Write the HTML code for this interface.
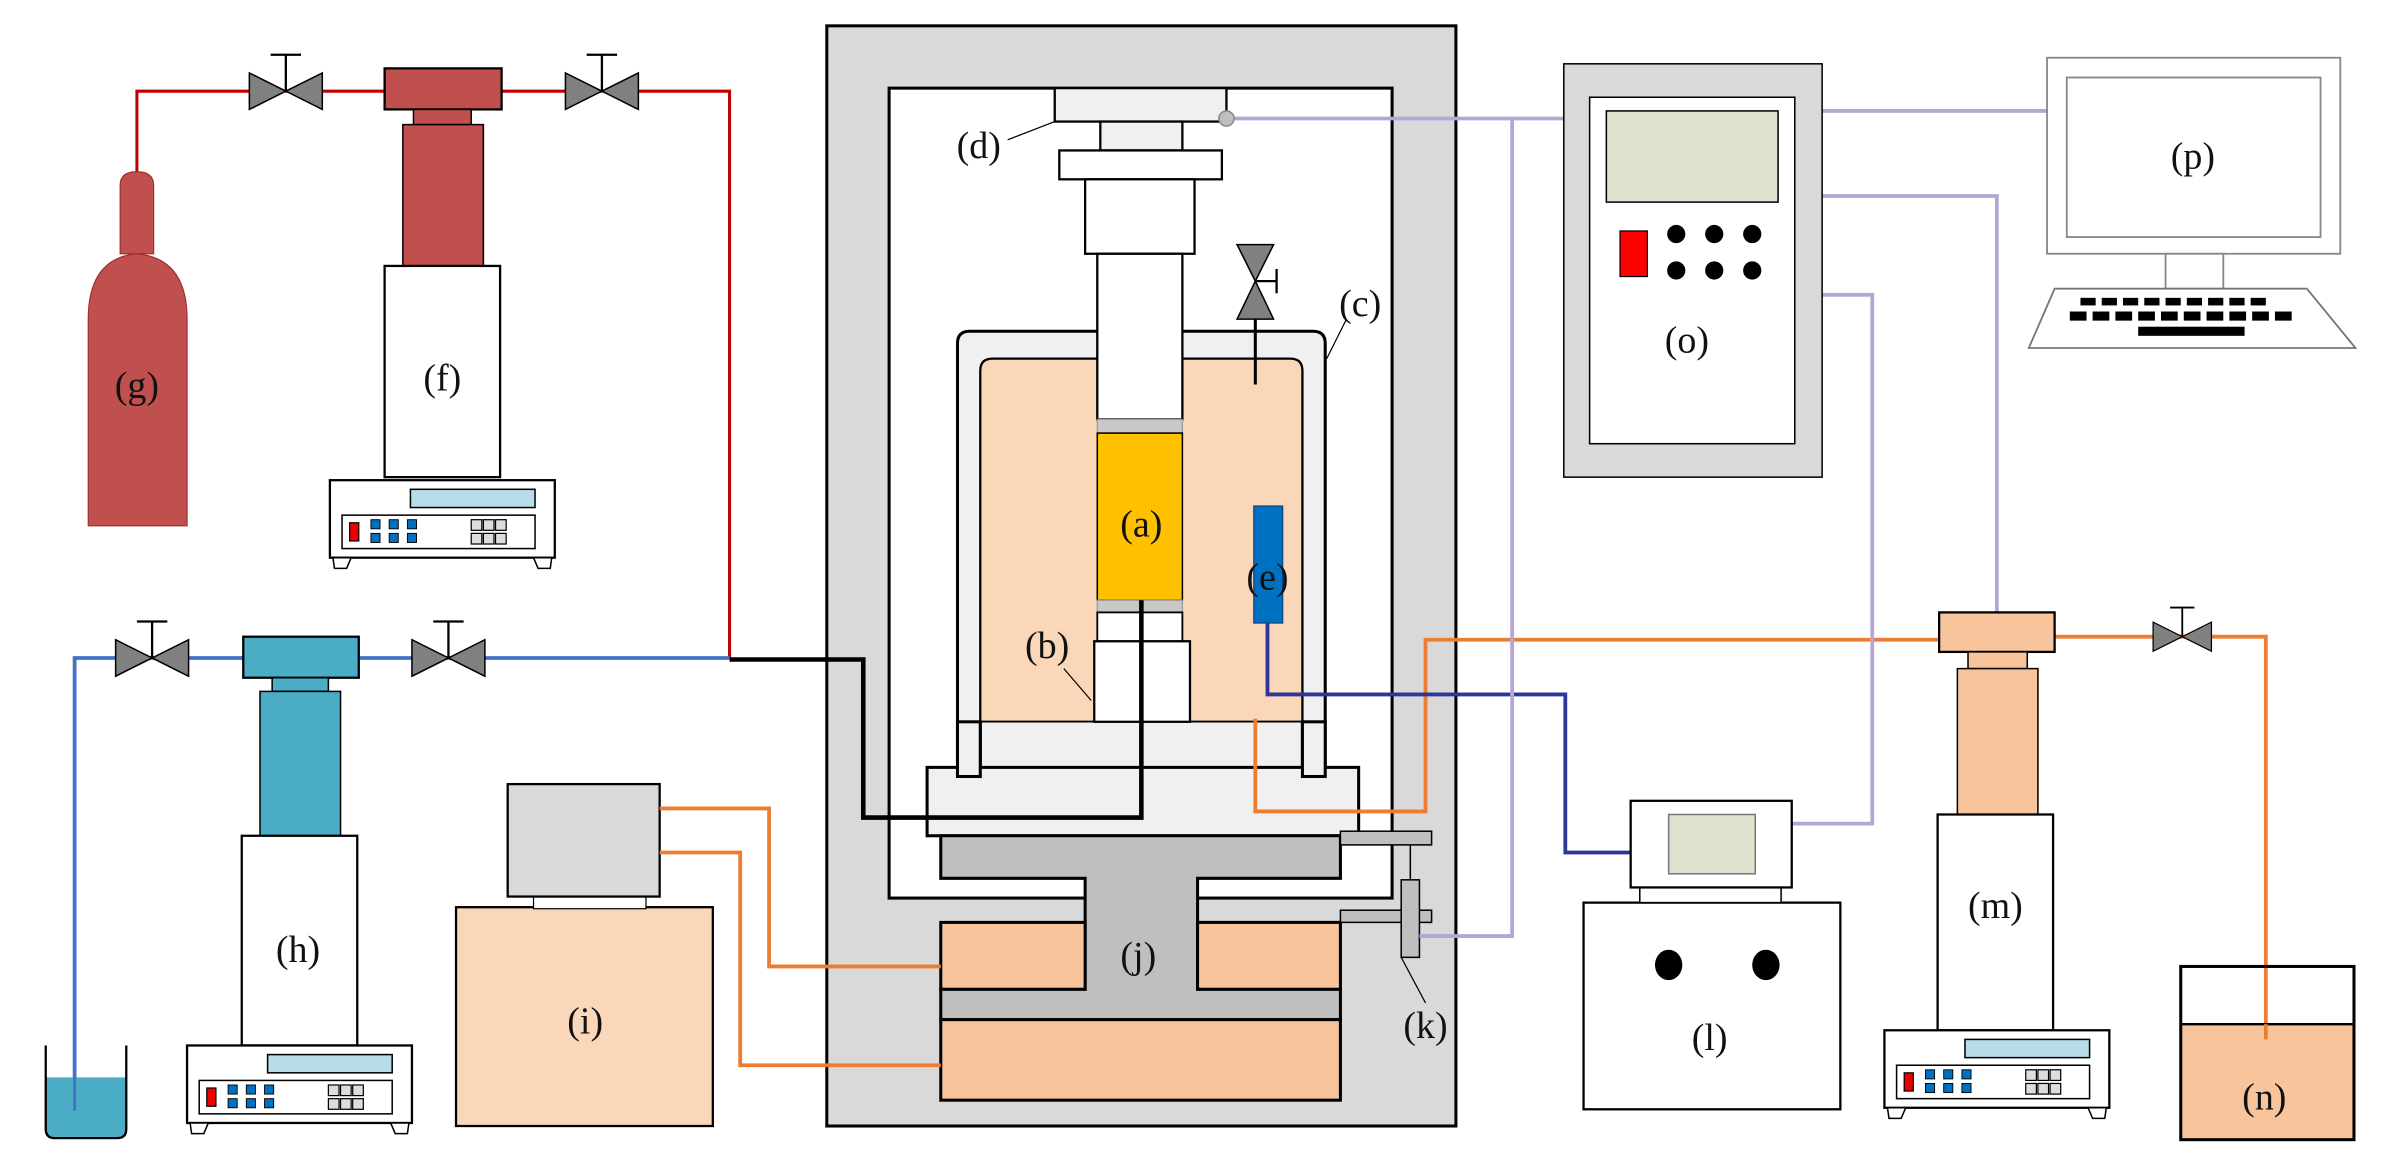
<!DOCTYPE html>
<html><head><meta charset="utf-8"><style>html,body{margin:0;padding:0;background:#fff}svg{display:block}text{font-family:"Liberation Serif",serif;font-size:25px;fill:#111;text-anchor:middle}</style></head><body>
<svg width="2383" height="1164" viewBox="0 0 1568 766" xmlns="http://www.w3.org/2000/svg">
<defs>
<g id="ctrl">
<rect x="0" y="0" width="148" height="51" fill="#fff" stroke="#000" stroke-width="1.5"/>
<rect x="53" y="6" width="82" height="12" fill="#b7dde8" stroke="#000" stroke-width="1"/>
<rect x="8" y="23" width="127" height="22" fill="#fff" stroke="#000" stroke-width="1"/>
<rect x="13" y="28" width="6" height="12" fill="#e00" stroke="#000" stroke-width="0.8"/>
<g fill="#0070c0" stroke="#000" stroke-width="0.6">
<rect x="27" y="26" width="6" height="6"/><rect x="39" y="26" width="6" height="6"/><rect x="51" y="26" width="6" height="6"/>
<rect x="27" y="35" width="6" height="6"/><rect x="39" y="35" width="6" height="6"/><rect x="51" y="35" width="6" height="6"/></g>
<g fill="#ddd" stroke="#000" stroke-width="0.8">
<rect x="93" y="26" width="7" height="7"/><rect x="101" y="26" width="7" height="7"/><rect x="109" y="26" width="7" height="7"/>
<rect x="93" y="35" width="7" height="7"/><rect x="101" y="35" width="7" height="7"/><rect x="109" y="35" width="7" height="7"/></g>
<path d="M2 51 L14 51 L11 58 L3 58 Z M134 51 L146 51 L145 58 L137 58 Z" fill="#fff" stroke="#000" stroke-width="1"/>
</g>
<g id="valve">
<path d="M-24 -12 L-24 12 L0 0 Z M24 -12 L24 12 L0 0 Z" fill="#808080" stroke="#000" stroke-width="1"/>
<path d="M0 0 V-24 M-10 -24 H10" stroke="#000" stroke-width="1.5"/>
</g>
</defs>

<!-- red line -->
<path d="M90 113 V60 H480 V433" fill="none" stroke="#c00000" stroke-width="2"/>
<!-- bottle g -->
<path d="M79 167 V122 Q79 113 90 113 Q101 113 101 122 V167 Z" fill="#c0504d" stroke="#a03030" stroke-width="0.8"/>
<path d="M58 346 V210 Q58 170 90 167 Q123 170 123 210 V346 Z" fill="#c0504d" stroke="#a03030" stroke-width="0.8"/>
<text x="90" y="262">(g)</text>
<!-- pump f -->
<use href="#valve" x="188" y="60"/><use href="#valve" x="396" y="60"/>
<rect x="253" y="45" width="77" height="27" fill="#c0504d" stroke="#000" stroke-width="1.5"/>
<rect x="272" y="72" width="38" height="10" fill="#c0504d" stroke="#000" stroke-width="1"/>
<rect x="265" y="82" width="53" height="93" fill="#c0504d" stroke="#000" stroke-width="1"/>
<rect x="253" y="175" width="76" height="139" fill="#fff" stroke="#000" stroke-width="1.5"/>
<text x="291" y="257">(f)</text>
<use href="#ctrl" x="217" y="316"/>

<!-- blue line -->
<path d="M49 731 V433 H480" fill="none" stroke="#4472c4" stroke-width="2.5"/>
<use href="#valve" x="100" y="433"/><use href="#valve" x="295" y="433"/>
<rect x="160" y="419" width="76" height="27" fill="#4bacc6" stroke="#000" stroke-width="1.5"/>
<rect x="179" y="446" width="37" height="9" fill="#4bacc6" stroke="#000" stroke-width="1"/>
<rect x="171" y="455" width="53" height="95" fill="#4bacc6" stroke="#000" stroke-width="1"/>
<rect x="159" y="550" width="76" height="138" fill="#fff" stroke="#000" stroke-width="1.5"/>
<text x="196" y="633">(h)</text>
<use href="#ctrl" x="123" y="688"/>
<!-- beaker -->
<path d="M30 709 H83 V743 Q83 749 77 749 H36 Q30 749 30 743 Z" fill="#4bacc6"/>
<path d="M30 688 V743 Q30 749 36 749 H77 Q83 749 83 743 V688" fill="none" stroke="#000" stroke-width="1.5"/>
<line x1="49" y1="709" x2="49" y2="731" stroke="#4472c4" stroke-width="2"/>

<!-- i -->
<rect x="300" y="597" width="169" height="144" fill="#fad7b9" stroke="#000" stroke-width="1.5"/>
<rect x="351" y="590" width="74" height="8" fill="#fff" stroke="#000" stroke-width="0.8"/>
<rect x="334" y="516" width="100" height="74" fill="#d9d9d9" stroke="#000" stroke-width="1.5"/>
<text x="385" y="680">(i)</text>

<!-- main frame -->
<rect x="544" y="17" width="414" height="724" fill="#d9d9d9" stroke="#000" stroke-width="2"/>
<rect x="585" y="58" width="331" height="533" fill="#fff" stroke="#000" stroke-width="2"/>
<!-- d -->
<rect x="694" y="58" width="113" height="22" fill="#f0f0f0" stroke="#000" stroke-width="1.5"/>
<rect x="724" y="80" width="54" height="19" fill="#f0f0f0" stroke="#000" stroke-width="1.5"/>
<rect x="697" y="99" width="107" height="19" fill="#fff" stroke="#000" stroke-width="1.5"/>
<rect x="714" y="118" width="72" height="49" fill="#fff" stroke="#000" stroke-width="1.5"/>
<!-- cell c -->
<path d="M630 511 V226 Q630 218 638 218 H864 Q872 218 872 226 V511 Z" fill="#f0f0f0" stroke="#000" stroke-width="2"/>
<path d="M645 475 V244 Q645 236 653 236 H849 Q857 236 857 244 V475 Z" fill="#fad7b9" stroke="#000" stroke-width="1.5"/>
<rect x="645" y="475" width="212" height="36" fill="#f0f0f0"/>
<line x1="645" y1="475" x2="857" y2="475" stroke="#000" stroke-width="1"/>
<line x1="645" y1="475" x2="645" y2="511" stroke="#000" stroke-width="2"/>
<line x1="857" y1="475" x2="857" y2="511" stroke="#000" stroke-width="2"/>
<rect x="722" y="167" width="56" height="109" fill="#fff" stroke="#000" stroke-width="1.5"/>
<rect x="722" y="276" width="56" height="9" fill="#c8c8c8" stroke="#999" stroke-width="0.8"/>
<rect x="722" y="285" width="56" height="110" fill="#ffc000" stroke="#000" stroke-width="1"/>
<rect x="722" y="395" width="56" height="8" fill="#c8c8c8" stroke="#999" stroke-width="0.8"/>
<rect x="722" y="403" width="56" height="19" fill="#fff" stroke="#000" stroke-width="1.2"/>
<rect x="720" y="422" width="63" height="53" fill="#fff" stroke="#000" stroke-width="1.5"/>
<text x="751" y="353">(a)</text>
<!-- valve on cell -->
<path d="M826 253 V210" stroke="#000" stroke-width="2"/>
<path d="M814 161 H838 L826 185 Z M814 210 H838 L826 185 Z" fill="#808080" stroke="#000" stroke-width="1"/>
<path d="M826 185 H840 M840 177 V193" stroke="#000" stroke-width="1.5"/>
<!-- e -->
<rect x="825" y="333" width="19" height="77" fill="#0070c0" stroke="#104080" stroke-width="0.8"/>
<text x="834" y="388">(e)</text>
<!-- base plate -->
<rect x="610" y="505" width="284" height="45" fill="#f0f0f0" stroke="#000" stroke-width="2"/>
<rect x="630" y="475" width="15" height="36" fill="#f0f0f0" stroke="#000" stroke-width="2"/>
<rect x="857" y="475" width="15" height="36" fill="#f0f0f0" stroke="#000" stroke-width="2"/>
<!-- j -->
<path d="M619 550 H882 V578 H788 V651 H882 V671 H619 V651 H714 V578 H619 Z" fill="#bfbfbf" stroke="#000" stroke-width="2"/>
<rect x="619" y="607" width="95" height="44" fill="#f8c49b" stroke="#000" stroke-width="2"/>
<rect x="788" y="607" width="94" height="44" fill="#f8c49b" stroke="#000" stroke-width="2"/>
<rect x="619" y="671" width="263" height="53" fill="#f8c49b" stroke="#000" stroke-width="2"/>
<text x="749" y="637">(j)</text>
<!-- k -->
<rect x="882" y="547" width="60" height="9" fill="#bfbfbf" stroke="#000" stroke-width="1"/>
<rect x="882" y="599" width="60" height="8" fill="#bfbfbf" stroke="#000" stroke-width="1"/>
<line x1="928" y1="556" x2="928" y2="580" stroke="#000" stroke-width="1"/>
<rect x="922" y="579" width="12" height="51" fill="#bfbfbf" stroke="#000" stroke-width="1"/>
<line x1="922" y1="630" x2="938" y2="660" stroke="#000" stroke-width="0.8"/>
<text x="938" y="683">(k)</text>

<!-- black line -->
<path d="M480 434 H568 V538 H751 V395" fill="none" stroke="#000" stroke-width="3"/>
<!-- orange i lines -->
<path d="M434 532 H506 V636 H619 M434 561 H487 V701 H619" fill="none" stroke="#ed7d31" stroke-width="2.5"/>
<!-- orange right -->
<path d="M826 473 V534 H938 V421 H1276 M1352 419 H1491 V684" fill="none" stroke="#ed7d31" stroke-width="2.5"/>
<use href="#valve" x="1436" y="419" transform="translate(1436 419) scale(0.8) translate(-1436 -419)"/>
<!-- dark blue -->
<path d="M834 410 V457 H1030 V561 H1073" fill="none" stroke="#2f3699" stroke-width="2.5"/>
<!-- purple -->
<g fill="none" stroke="#b4a7d6" stroke-width="2.5">
<path d="M807 78 H1029 M995 78 V616 H934"/>
<path d="M1199 73 H1347"/>
<path d="M1199 129 H1314 V403"/>
<path d="M1199 194 H1232 V542 H1179"/>
</g>
<circle cx="807" cy="78" r="5" fill="#bfbfbf" stroke="#888" stroke-width="1"/>
<!-- labels b c d -->
<line x1="718" y1="461" x2="700" y2="440" stroke="#000" stroke-width="0.8"/>
<text x="689" y="433">(b)</text>
<line x1="873" y1="236" x2="886" y2="210" stroke="#000" stroke-width="0.8"/>
<text x="895" y="208">(c)</text>
<line x1="663" y1="92" x2="694" y2="80" stroke="#000" stroke-width="0.8"/>
<text x="644" y="104">(d)</text>

<!-- o -->
<rect x="1029" y="42" width="170" height="272" fill="#d9d9d9" stroke="#000" stroke-width="1"/>
<rect x="1046" y="64" width="135" height="228" fill="#fff" stroke="#000" stroke-width="1"/>
<rect x="1057" y="73" width="113" height="60" fill="#dde3cf" stroke="#000" stroke-width="1"/>
<rect x="1066" y="152" width="18" height="30" fill="#f00" stroke="#000" stroke-width="0.8"/>
<g fill="#000"><circle cx="1103" cy="154" r="6"/><circle cx="1128" cy="154" r="6"/><circle cx="1153" cy="154" r="6"/><circle cx="1103" cy="178" r="6"/><circle cx="1128" cy="178" r="6"/><circle cx="1153" cy="178" r="6"/></g>
<text x="1110" y="232">(o)</text>
<!-- p -->
<rect x="1347" y="38" width="193" height="129" fill="#fff" stroke="#888" stroke-width="1.2"/>
<rect x="1360" y="51" width="167" height="105" fill="#fff" stroke="#888" stroke-width="1.2"/>
<text x="1443" y="111">(p)</text>
<rect x="1425" y="167" width="38" height="23" fill="#fff" stroke="#888" stroke-width="1.2"/>
<path d="M1352 190 H1518 L1550 229 H1335 Z" fill="#fff" stroke="#777" stroke-width="1.2"/>
<g fill="#000">
<rect x="1369" y="196" width="10" height="5"/><rect x="1383" y="196" width="10" height="5"/><rect x="1397" y="196" width="10" height="5"/><rect x="1411" y="196" width="10" height="5"/><rect x="1425" y="196" width="10" height="5"/><rect x="1439" y="196" width="10" height="5"/><rect x="1453" y="196" width="10" height="5"/><rect x="1467" y="196" width="10" height="5"/><rect x="1481" y="196" width="10" height="5"/>
<rect x="1362" y="205" width="11" height="6"/><rect x="1377" y="205" width="11" height="6"/><rect x="1392" y="205" width="11" height="6"/><rect x="1407" y="205" width="11" height="6"/><rect x="1422" y="205" width="11" height="6"/><rect x="1437" y="205" width="11" height="6"/><rect x="1452" y="205" width="11" height="6"/><rect x="1467" y="205" width="11" height="6"/><rect x="1482" y="205" width="11" height="6"/><rect x="1497" y="205" width="11" height="6"/>
<rect x="1407" y="215" width="70" height="6"/>
</g>
<!-- l -->
<rect x="1042" y="594" width="169" height="136" fill="#fff" stroke="#000" stroke-width="1.5"/>
<rect x="1079" y="584" width="93" height="10" fill="#fff" stroke="#000" stroke-width="1"/>
<rect x="1073" y="527" width="106" height="57" fill="#fff" stroke="#000" stroke-width="1.5"/>
<rect x="1098" y="536" width="57" height="39" fill="#dde3cf" stroke="#777" stroke-width="1"/>
<ellipse cx="1098" cy="635" rx="9" ry="10" fill="#000"/><ellipse cx="1162" cy="635" rx="9" ry="10" fill="#000"/>
<text x="1125" y="691">(l)</text>
<!-- m -->
<rect x="1276" y="403" width="76" height="26" fill="#f8c49b" stroke="#000" stroke-width="1.5"/>
<rect x="1295" y="429" width="39" height="11" fill="#f8c49b" stroke="#000" stroke-width="1"/>
<rect x="1288" y="440" width="53" height="96" fill="#f8c49b" stroke="#000" stroke-width="1"/>
<rect x="1275" y="536" width="76" height="142" fill="#fff" stroke="#000" stroke-width="1.5"/>
<text x="1313" y="604">(m)</text>
<use href="#ctrl" x="1240" y="678"/>
<!-- n -->
<rect x="1435" y="674" width="114" height="76" fill="#f8c49b"/>
<rect x="1435" y="636" width="114" height="114" fill="none" stroke="#000" stroke-width="2"/>
<line x1="1435" y1="674" x2="1549" y2="674" stroke="#000" stroke-width="1.5"/>
<line x1="1491" y1="674" x2="1491" y2="684" stroke="#ed7d31" stroke-width="2.5"/>
<text x="1490" y="730">(n)</text>
</svg>
</body></html>
